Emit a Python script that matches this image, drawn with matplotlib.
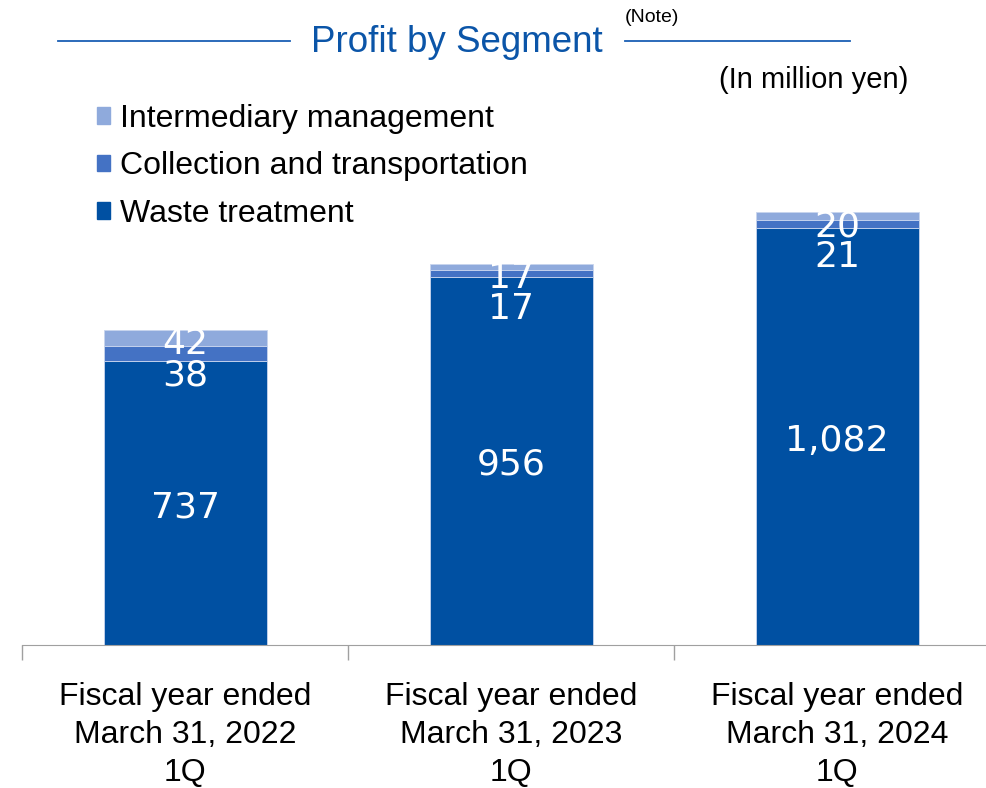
import matplotlib
matplotlib.use("Agg")
import matplotlib.pyplot as plt
from matplotlib.patches import Patch

plt.rcParams['font.family'] = ['Liberation Sans', 'DejaVu Sans']

# data
categories = ["Fiscal year ended\nMarch 31, 2022\n1Q",
              "Fiscal year ended\nMarch 31, 2023\n1Q",
              "Fiscal year ended\nMarch 31, 2024\n1Q"]
waste = [737, 956, 1082]
collection = [38, 17, 21]
intermediary = [42, 17, 20]
series_names = ["Waste treatment", "Collection and transportation", "Intermediary management"]
colors = ["#0050A2", "#4472C4", "#8FAADC"]

W, H = 986, 788
fig = plt.figure(figsize=(W / 100, H / 100), dpi=100)

# axes: baseline at y=645 px, left at x=22 px
base_px = 645
px_per_unit = 0.3853
ax = fig.add_axes([22 / W, (H - base_px) / H, (W - 22) / W, base_px / H])

x = range(len(categories))
bottom2 = [a + b for a, b in zip(waste, collection)]
tops = [a + b + c for a, b, c in zip(waste, collection, intermediary)]
ec = "#c8d5ee"
ax.bar(x, waste, width=0.5, color=colors[0], edgecolor=ec, linewidth=0.6)
ax.bar(x, collection, width=0.5, bottom=waste, color=colors[1], edgecolor=ec, linewidth=0.6)
ax.bar(x, intermediary, width=0.5, bottom=bottom2, color=colors[2], edgecolor=ec, linewidth=0.6)

# value labels
lbl = dict(color="white", ha="center", va="center", fontsize=26, family="DejaVu Sans",
           textcoords="offset points")
for i in x:
    ax.annotate(f"{waste[i]:,}", (i, waste[i] / 2), xytext=(0, -4 * 0.72), **lbl)
    ax.annotate(f"{intermediary[i]}", (i, tops[i]), xytext=(0, -14 * 0.72), **lbl)
    ax.annotate(f"{collection[i]}", (i, tops[i]), xytext=(0, -45 * 0.72), **lbl)

# axis styling
for s in ["top", "right", "left"]:
    ax.spines[s].set_visible(False)
ax.spines["bottom"].set_color("#a0a0a0")
ax.set_yticks([])
ax.set_xticks(list(x))
ax.set_xticklabels(categories, fontsize=23, linespacing=1.36)
ax.tick_params(axis="x", which="major", length=0, pad=26.5)
ax.set_xticks([-0.5, 0.5, 1.5], minor=True)
ax.tick_params(axis="x", which="minor", length=11, color="#a0a0a0", width=1)

ax.set_ylim(0, base_px / px_per_unit)
ax.set_xlim(-0.5, -0.5 + (W - 22) / 326)

# legend
handles = [Patch(color=c, label=n) for c, n in zip(colors, series_names)][::-1]
ax.legend(handles=handles, loc="upper left", bbox_to_anchor=(62 / (W - 22), (base_px - 91) / base_px),
          frameon=False, fontsize=23, handlelength=0.42, handleheight=0.42,
          handletextpad=0.3, labelspacing=0.55, borderaxespad=0)

# header
blue = "#1a5fb4"
fig.text(457 / W, 1 - 43 / H, "Profit by Segment", color="#0b55a8", fontsize=26.5,
         ha="center", va="center")
fig.text(652 / W, 1 - 18 / H, "(Note)", fontsize=14, ha="center", va="center")
fig.add_artist(plt.Line2D([58 / W, 290 / W], [1 - 41 / H] * 2, color=blue, lw=1.3))
fig.add_artist(plt.Line2D([625 / W, 850 / W], [1 - 41 / H] * 2, color=blue, lw=1.3))
fig.text(908 / W, 1 - 80 / H, "(In million yen)", fontsize=21, ha="right", va="center")

fig.savefig("out.png", dpi=100)
